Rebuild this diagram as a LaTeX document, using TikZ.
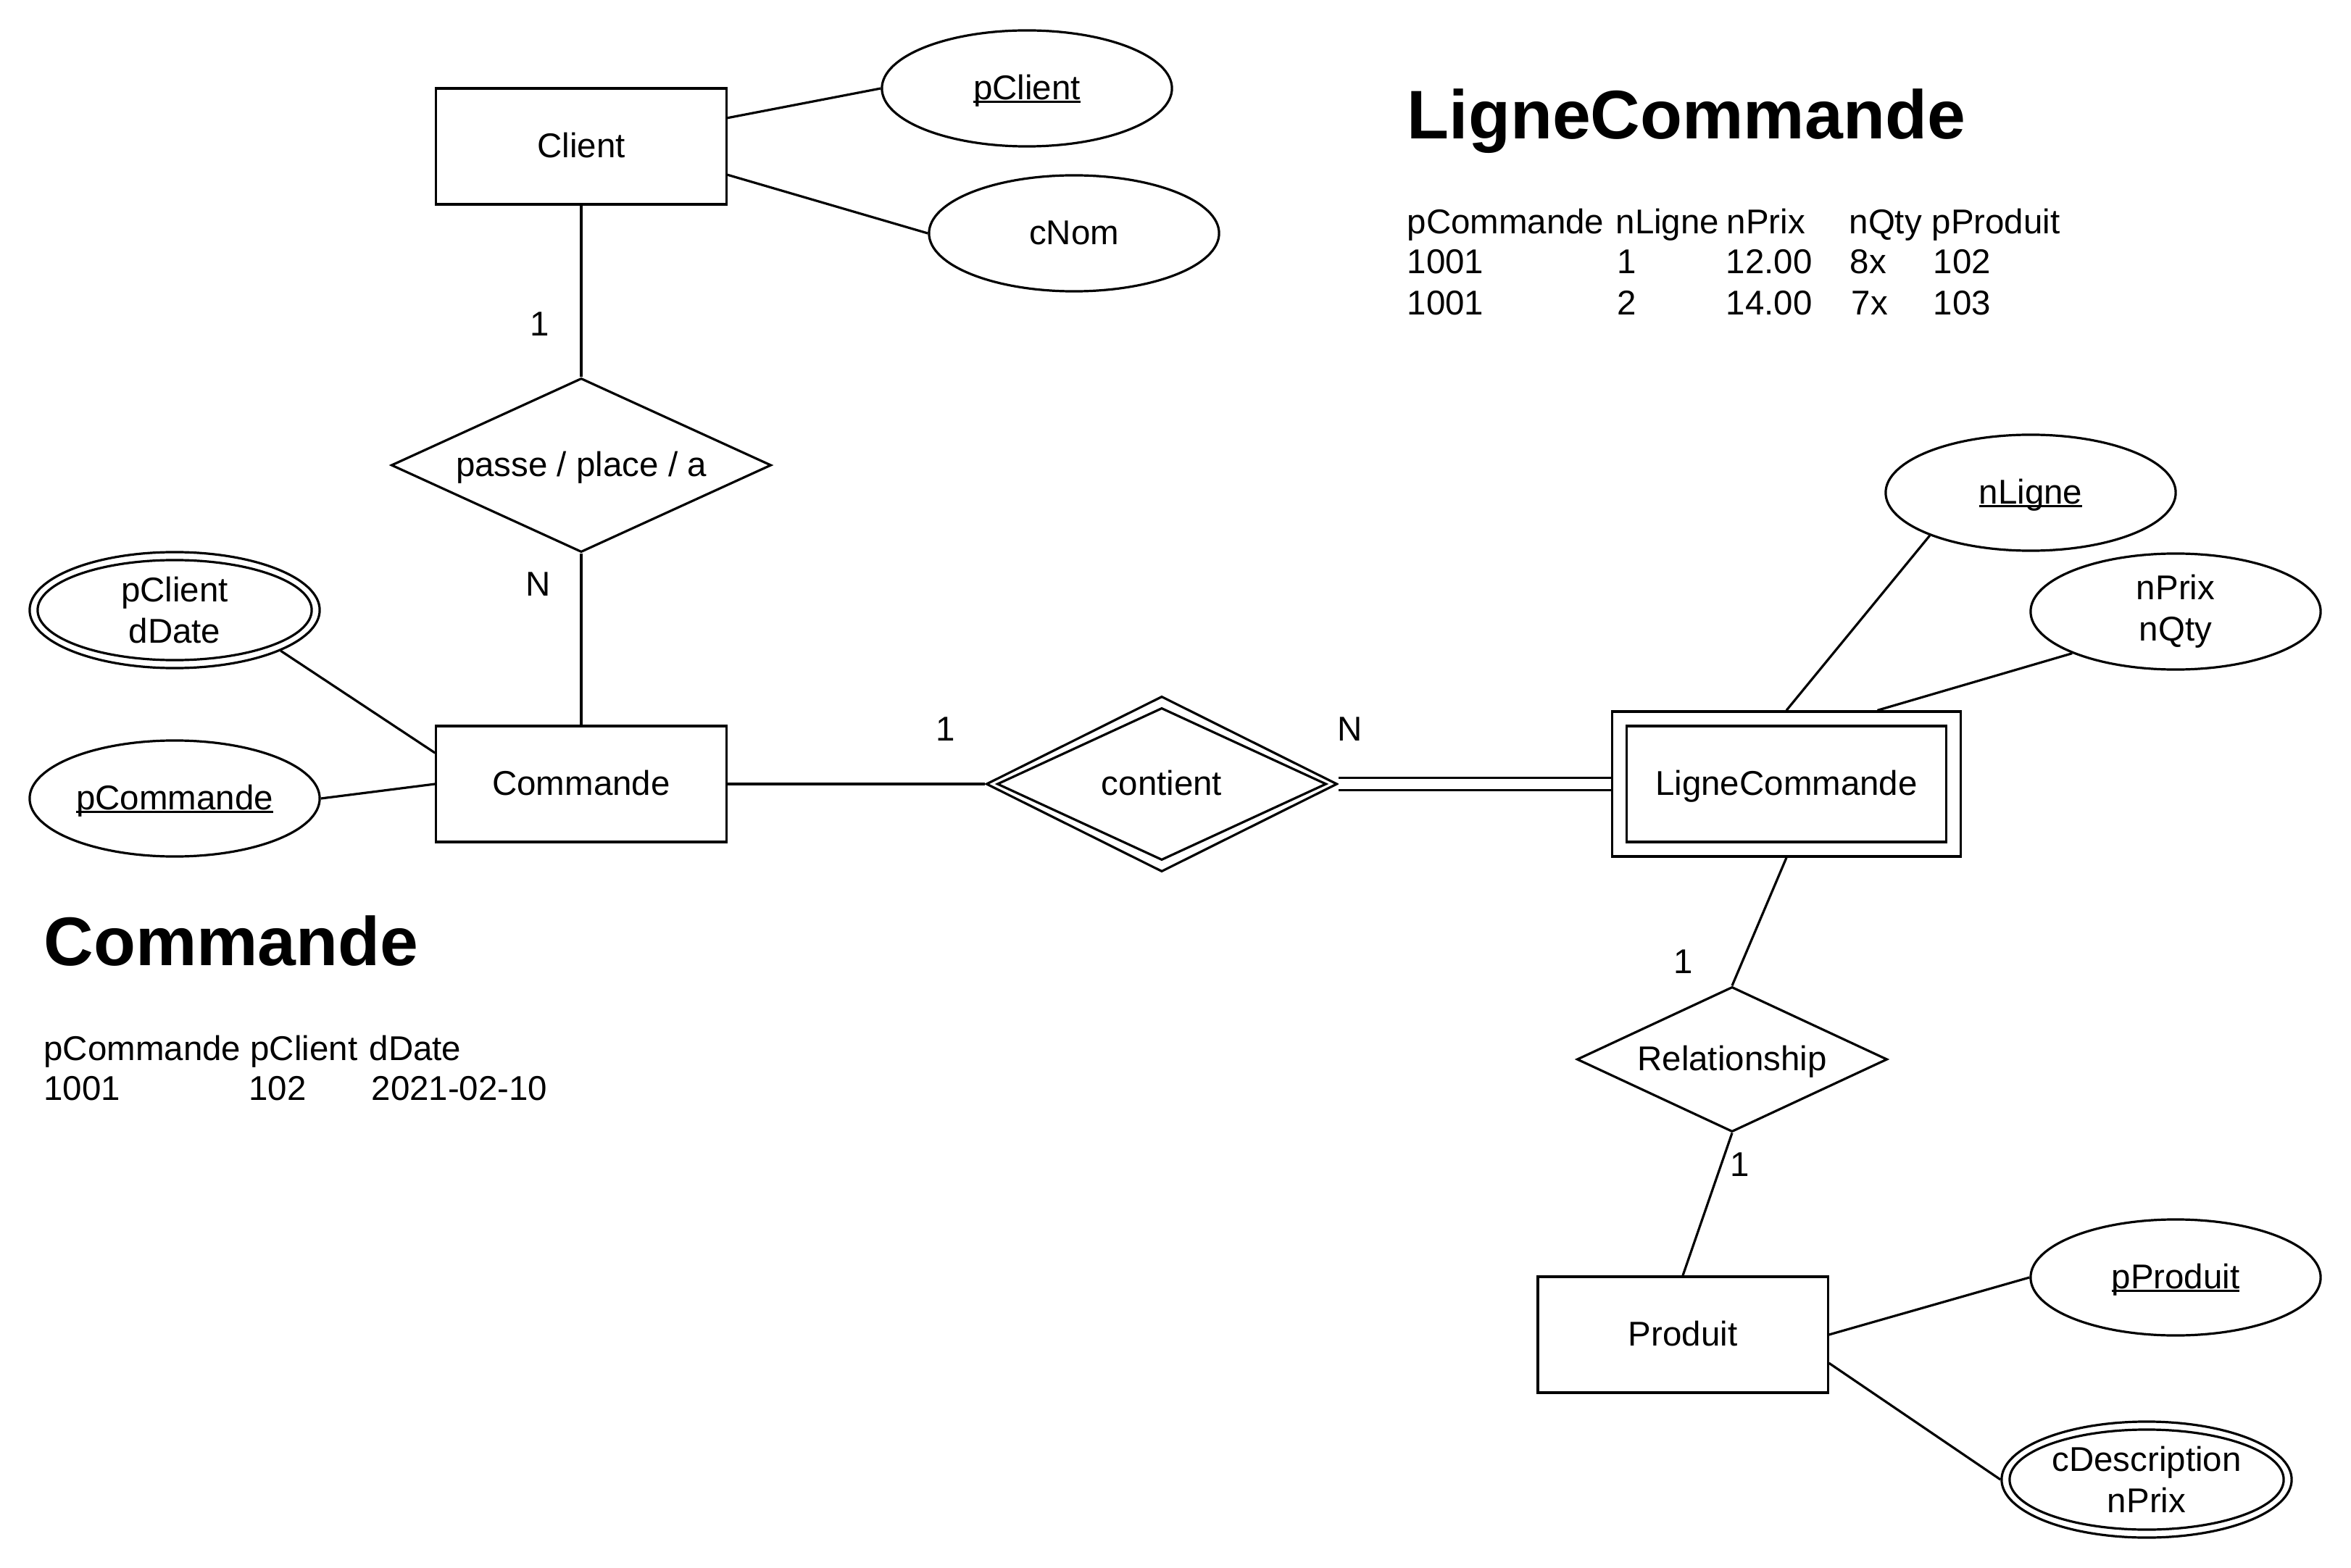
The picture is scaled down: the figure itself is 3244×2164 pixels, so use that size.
\documentclass[tikz,border=0pt]{standalone}
\usepackage{fontspec}
\setmainfont{Liberation Sans}
\usetikzlibrary{shapes.geometric}
\newcommand\normalfs{\fontsize{13.5}{16.2}\selectfont}
\newcommand\titlefs{\fontsize{27}{32}\selectfont\bfseries}
\newcommand\myul[1]{\setbox0\hbox{#1}\rlap{\rule[-0.09em]{\wd0}{0.055em}}\box0}
\tikzset{
  every node/.style={font=\normalfs},
  oneline/.style={text height=0.98em, text depth=0.1em},
  ent/.style={draw, rectangle, inner sep=0pt, minimum width=4cm, minimum height=1.6cm, oneline},
  attr/.style={draw, ellipse, inner sep=0pt, minimum width=4cm, minimum height=1.6cm, align=center},
  attrin/.style={draw, ellipse, inner sep=0pt, minimum width=3.78cm, minimum height=1.38cm},
  rel/.style={draw, diamond, inner sep=0pt, aspect=2.2, oneline},
  lbl/.style={inner sep=0pt},
  tbl/.style={anchor=base west, inner sep=0pt},
  ttl/.style={anchor=base west, inner sep=0pt, font=\titlefs},
  conn/.style={line width=0.032cm},
  dconn/.style={line width=0.032cm, double, double distance=0.13cm}
}
\begin{document}
\begin{tikzpicture}[x=0.01cm, y=-0.01cm, line width=0.032cm]
\useasboundingbox (0,0) rectangle (3244,2164);

% Client side
\node[ent] (client) at (802,202) {Client};
\node[attr, oneline] (pclient) at (1417,122) {\myul{pClient}};
\node[attr, oneline] (cnom) at (1482,322) {cNom};
\node[rel, minimum width=5.24cm, minimum height=2.4cm] (passe) at (802,642) {passe / place / a};
\node[ent] (commande) at (802,1082) {Commande};
\node[attr] (cdate) at (241,842) {pClient\\dDate};
\node[attrin] (cdatein) at (241,842) {};
\node[attr, oneline] (pcommande) at (241,1102) {\myul{pCommande}};

% contient
\node[rel, minimum width=4.84cm, minimum height=2.42cm] (contient) at (1603,1082) {contient};
\node[rel, minimum width=4.54cm, minimum height=2.10cm] (contientin) at (1603,1082) {};

% LigneCommande
\node[ent, minimum width=4.81cm, minimum height=2.0cm] (lc) at (2465,1082) {LigneCommande};
\node[ent, minimum width=4.41cm, minimum height=1.6cm] (lcin) at (2465,1082) {};
\node[attr, oneline] (nligne) at (2802,680) {\myul{nLigne}};
\node[attr] (nprix) at (3002,844) {nPrix\\nQty};

% Produit
\node[rel, minimum width=4.28cm, minimum height=2.0cm] (relr) at (2390,1462) {Relationship};
\node[ent] (produit) at (2322,1842) {Produit};
\node[attr, oneline] (pproduit) at (3002,1763) {\myul{pProduit}};
\node[attr] (cdesc) at (2962,2042) {cDescription\\nPrix};
\node[attrin] (cdescin) at (2962,2042) {};

% connectors
\draw[conn] (client.11.6) -- (pclient.west);
\draw[conn] (client.-11.3) -- (cnom.west);
\draw[conn] (client.south) -- (passe.north);
\draw[conn] (passe.south) -- (commande.north);
\draw[conn] (cdate.-21.4) -- (commande.168.7);
\draw[conn] (pcommande.east) -- (commande.west);
\draw[conn] (commande.east) -- (contient.west);
\draw[dconn] (contient.east) -- (lc.west);
\draw[conn] (nligne.-157.2) -- (lc.north);
\draw[conn] (nprix.-158) -- (lc.39.6);
\draw[conn] (lc.south) -- (relr.north);
\draw[conn] (relr.south) -- (produit.north);
\draw[conn] (produit.east) -- (pproduit.west);
\draw[conn] (produit.-11.3) -- (cdesc.west);

% cardinality labels
\node[lbl] (c1) at (745,447) {1};
\node[lbl] (c2) at (743,806) {N};
\node[lbl] (c3) at (1305,1006) {1};
\node[lbl] (c4) at (1863,1006) {N};
\node[lbl] (c5) at (2323,1327) {1};
\node[lbl] (c6) at (2401,1607) {1};

% LigneCommande table
\node[ttl] (t1) at (1940,192) {LigneCommande};
\node[tbl] (h1) at (1940,323) {pCommande};
\node[tbl] (h2) at (2228,323) {nLigne};
\node[tbl] (h3) at (2381,323) {nPrix};
\node[tbl] (h4) at (2550,323) {nQty};
\node[tbl] (h5) at (2664,323) {pProduit};
\node[tbl] (r11) at (1940,378) {1001};
\node[tbl] (r12) at (2230,378) {1};
\node[tbl] (r13) at (2380,378) {12.00};
\node[tbl] (r14) at (2551,378) {8x};
\node[tbl] (r15) at (2666,378) {102};
\node[tbl] (r21) at (1940,435) {1001};
\node[tbl] (r22) at (2230,435) {2};
\node[tbl] (r23) at (2380,435) {14.00};
\node[tbl] (r24) at (2553,435) {7x};
\node[tbl] (r25) at (2666,435) {103};

% Commande table
\node[ttl] (t2) at (59,1332) {Commande};
\node[tbl] (g1) at (59,1463) {pCommande};
\node[tbl] (g2) at (344,1463) {pClient};
\node[tbl] (g3) at (508,1463) {dDate};
\node[tbl] (s1) at (59,1518) {1001};
\node[tbl] (s2) at (342,1518) {102};
\node[tbl] (s3) at (511,1518) {2021-02-10};
\end{tikzpicture}
\end{document}
